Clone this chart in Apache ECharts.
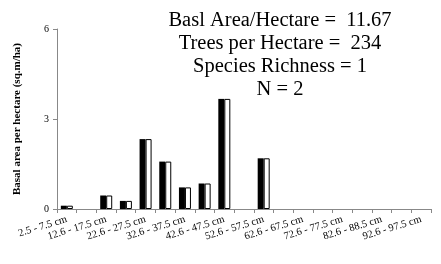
<!DOCTYPE html>
<html>
<head>
<meta charset="utf-8">
<script src="https://cdn.jsdelivr.net/npm/echarts@6/dist/echarts.min.js"></script>
<style>
  html, body { margin: 0; padding: 0; background: #fff; }
  #chart { width: 441px; height: 264px; }
</style>
</head>
<body>
<div id="chart"></div>
<script>
var categories = ['2.5 - 7.5 cm', '7.6 - 12.5 cm', '12.6 - 17.5 cm', '17.6 - 22.5 cm',
  '22.6 - 27.5 cm', '27.6 - 32.5 cm', '32.6 - 37.5 cm', '37.6 - 42.5 cm',
  '42.6 - 47.5 cm', '47.6 - 52.5 cm', '52.6 - 57.5 cm', '57.6 - 62.5 cm',
  '62.6 - 67.5 cm', '67.6 - 72.5 cm', '72.6 - 77.5 cm', '77.6 - 82.5 cm',
  '82.6 - 88.5 cm', '87.6 - 92.5 cm', '92.6 - 97.5 cm'];
// empty size classes are left null (no bar drawn)
var basalArea = [0.11, null, 0.45, 0.27, 2.33, 1.58, 0.72, 0.85, 3.67, null, 1.69,
  null, null, null, null, null, null, null, null];
var summaryLines = ['Basl Area/Hectare =  11.67', 'Trees per Hectare =  234', 'Species Richness = 1', 'N = 2'];
var yTicks = [0, 3, 6];

var font = '"Liberation Serif", "Times New Roman", serif';

var chart = echarts.init(document.getElementById('chart'), null, { renderer: 'canvas' });

var option = {
  animation: false,
  backgroundColor: '#fff',
  title: {
    text: summaryLines.join('\n'),
    left: 275,
    top: 4,
    textAlign: 'center',
    textStyle: {
      fontFamily: font,
      fontWeight: 'normal',
      fontSize: 20.5,
      lineHeight: 23,
      color: '#000'
    }
  },
  grid: {
    left: 57,
    right: 10,
    top: 29,
    bottom: 55
  },
  xAxis: {
    type: 'category',
    data: categories,
    axisLine: { lineStyle: { color: '#888', width: 1 } },
    axisTick: { show: true, length: 4, interval: 0, lineStyle: { color: '#888' } },
    axisLabel: {
      // all labels kept, odd size classes are blanked
      interval: 0,
      formatter: function (v, i) { return i % 2 === 0 ? v : ''; },
      rotate: 17,
      margin: 10,
      fontFamily: font,
      fontSize: 10.5,
      color: '#000'
    }
  },
  yAxis: {
    type: 'value',
    min: yTicks[0],
    max: yTicks[yTicks.length - 1],
    interval: 3,
    name: 'Basal area per hectare (sq.m/ha)',
    nameLocation: 'middle',
    nameGap: 34,
    nameTextStyle: {
      fontFamily: font,
      fontWeight: 'bold',
      fontSize: 11,
      color: '#000'
    },
    axisLine: { show: true, lineStyle: { color: '#888', width: 1 } },
    axisTick: { show: true, length: 4, lineStyle: { color: '#888' } },
    splitLine: { show: false },
    axisLabel: {
      margin: 8,
      fontFamily: font,
      fontSize: 10,
      color: '#000'
    }
  },
  series: [
    {
      type: 'bar',
      data: basalArea,
      barWidth: 6,
      barGap: 0,
      itemStyle: { color: '#000' }
    },
    {
      type: 'bar',
      data: basalArea,
      barWidth: 6,
      barGap: 0,
      itemStyle: { color: '#fff', borderColor: '#000', borderWidth: 1 }
    }
  ]
};

chart.setOption(option);
</script>
</body>
</html>
